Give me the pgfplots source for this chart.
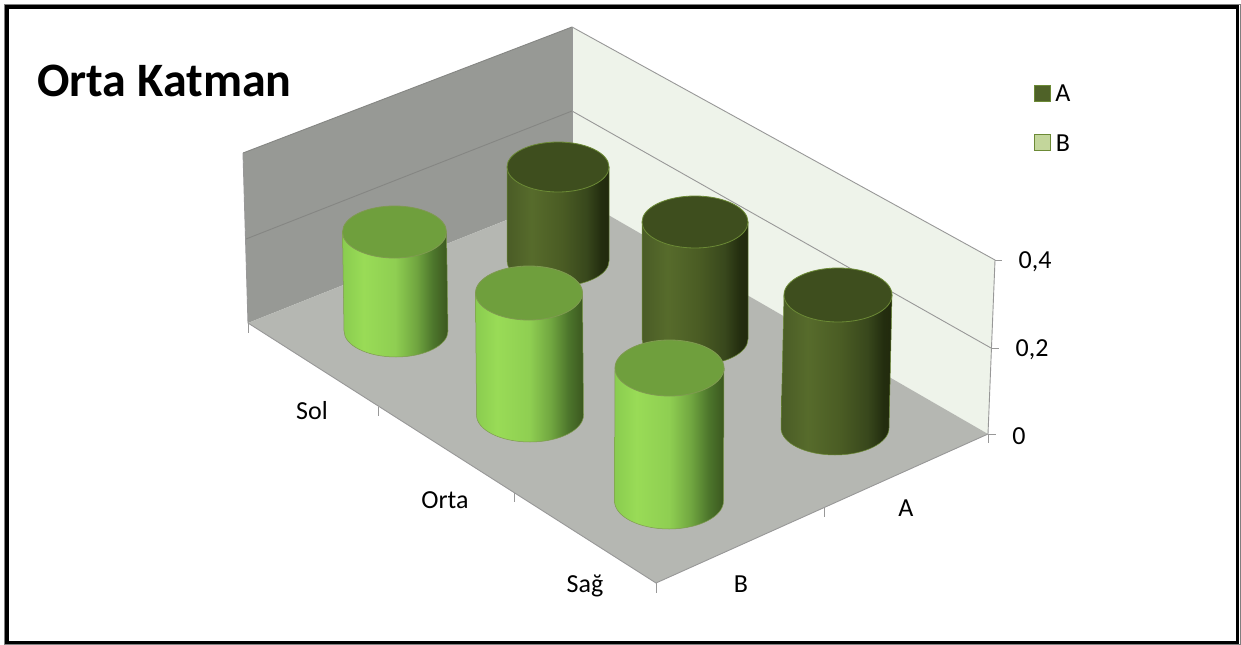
\documentclass[border=0pt]{standalone}
\usepackage{fontspec}
\setmainfont{Carlito}
\usepackage{pgfplots}
\usepackage{pgfplotstable}
\pgfplotsset{compat=1.18}

\definecolor{floorgray}{HTML}{B5B7B2}
\definecolor{sidewall}{HTML}{979995}
\definecolor{backwall}{HTML}{EEF3EA}
\definecolor{wallline}{HTML}{989898}
\definecolor{sideline}{HTML}{858683}
\definecolor{topA}{HTML}{3E4E1E}
\definecolor{topB}{HTML}{6F9F3D}
\definecolor{edgeA}{HTML}{6C8A36}
\definecolor{edgeB}{HTML}{7F9A50}
\definecolor{swatchA}{HTML}{4F6228}
\definecolor{swatchB}{HTML}{C3D69B}

\tikzset{lab/.style={font=\fontsize{26}{30}\selectfont, text=black, inner sep=0pt}}

% Side shading of the cylinders: the path box spans 25bp to 75bp
\pgfdeclarehorizontalshading{cylA}{100bp}{
  rgb(0bp)=(0.29,0.36,0.15);
  rgb(25bp)=(0.29,0.36,0.15);
  rgb(37bp)=(0.34,0.42,0.17);
  rgb(52bp)=(0.29,0.36,0.14);
  rgb(64bp)=(0.22,0.28,0.11);
  rgb(71bp)=(0.14,0.18,0.06);
  rgb(75bp)=(0.13,0.16,0.05);
  rgb(100bp)=(0.13,0.16,0.05)}
\pgfdeclarehorizontalshading{cylB}{100bp}{
  rgb(0bp)=(0.54,0.80,0.31);
  rgb(25bp)=(0.54,0.80,0.31);
  rgb(35bp)=(0.60,0.86,0.34);
  rgb(50bp)=(0.56,0.81,0.32);
  rgb(60bp)=(0.44,0.65,0.25);
  rgb(68bp)=(0.30,0.46,0.17);
  rgb(75bp)=(0.23,0.34,0.12);
  rgb(100bp)=(0.23,0.34,0.12)}

% One cylinder, with its base centre at the plotted point
\newcommand\cylshape[3]{%
  \path[shade,shading=#1,draw=#3,line width=0.5pt]
    ({-\cylrx pt},0pt) -- ({\cyldx pt-\cylrx pt},{\cylh pt}) -- ({\cyldx pt+\cylrx pt},{\cylh pt})
    -- ({\cylrx pt},0pt) arc[start angle=0,end angle=-180,x radius=\cylrx pt,y radius=\cylry pt] -- cycle;
  \path[fill=#2,draw=#3,line width=0.8pt]
    ({\cyldx pt},{\cylh pt}) ellipse[x radius=\cylrx pt,y radius=\cylry pt];
}
\pgfdeclareplotmark{cylinder}{%
  \ifdim\cylg pt<0.5pt \cylshape{cylA}{topA}{edgeA}\else \cylshape{cylB}{topB}{edgeB}\fi
}

% Drawn back to front: x, y of the base, height, radii, lean of the top, group (0 = A, 1 = B)
\pgfplotstableread{
cx    by   h    rx   ry  dx   g
558   261  94   51   25  0    0
396   331  99   52   26  -1.5 1
695   339  117  53   26  0    0
530   415  122  53.5 27  -1   1
835   428  133  54   27  3    0
669   501  133  54.5 28  0.5  1
}\cylinders

\begin{document}
\begin{tikzpicture}
\begin{axis}[
  scale only axis, width=1241pt, height=644pt,
  xmin=0, xmax=1241, ymin=0, ymax=644, y dir=reverse,
  axis lines=none, clip=false,
]
  % page background and chart border
  \addplot[fill=white, draw=none] coordinates {(0,0)(1241,0)(1241,644)(0,644)} --cycle;
  \addplot[draw=gray, line width=1pt] coordinates {(4.5,5)(1240,5)(1240,644)(4.5,644)} --cycle;
  \addplot[draw=black, line width=3.6pt] coordinates {(7,7)(1237.3,7)(1237.3,642.3)(7,642.3)} --cycle;

  % chart walls and floor
  \addplot[fill=sidewall, draw=none] coordinates {(243,153)(572,27)(572,194)(248,323)} --cycle;
  \addplot[fill=backwall, draw=none] coordinates {(572,27)(995,260)(988,434)(572,194)} --cycle;
  \addplot[fill=floorgray, draw=none] coordinates {(248,323)(572,194)(988,434)(656,583)} --cycle;

  % wall and gridlines
  \addplot[sideline, line width=0.9pt] coordinates {(243,153)(572,27)};
  \addplot[sideline, line width=0.9pt] coordinates {(246,239)(572,111)};
  \addplot[wallline, line width=0.9pt] coordinates {(572,27)(995,260)(988,434)};
  \addplot[wallline, line width=0.9pt] coordinates {(572,111)(991,348)};
  \addplot[wallline, line width=0.9pt] coordinates {(243,153)(248,323)(656,583)(988,434)};
  \addplot[wallline, line width=0.7pt] coordinates {(572,27)(572,194)};

  % tick stubs
  \addplot[wallline, line width=1pt] coordinates {(995,260)(1002,260)};
  \addplot[wallline, line width=1pt] coordinates {(991,348)(999,348)};
  \addplot[wallline, line width=1pt] coordinates {(988,434)(996,434)};
  \addplot[wallline, line width=1pt] coordinates {(988,434)(988,443)};
  \addplot[wallline, line width=1pt] coordinates {(824,508)(824,517)};
  \addplot[wallline, line width=1pt] coordinates {(656,583)(656,593)};
  \addplot[wallline, line width=1pt] coordinates {(514,493)(514,502)};
  \addplot[wallline, line width=1pt] coordinates {(378,407)(378,416)};
  \addplot[wallline, line width=1pt] coordinates {(248,323)(248,333)};

  % the six cylinders
  \addplot[
    scatter, only marks, mark=cylinder, point meta=x,
    visualization depends on={\thisrow{h} \as \cylh},
    visualization depends on={\thisrow{rx} \as \cylrx},
    visualization depends on={\thisrow{ry} \as \cylry},
    visualization depends on={\thisrow{dx} \as \cyldx},
    visualization depends on={\thisrow{g} \as \cylg},
  ] table[x=cx, y=by] {\cylinders};

  % legend swatches
  \addplot[only marks, mark=square*, mark size=7.8pt, mark options={fill=swatchA, draw=edgeA, line width=1.2pt}]
    coordinates {(1042.5,93.5)};
  \addplot[only marks, mark=square*, mark size=7.8pt, mark options={fill=swatchB, draw=edgeA, line width=1.2pt}]
    coordinates {(1042.5,142.5)};

  % text
  \node[anchor=base west, inner sep=0pt, font=\fontsize{48}{50}\selectfont\bfseries] at (axis cs:37,97) {Orta Katman};
  \node[lab] at (axis cs:1063,93) {A};
  \node[lab] at (axis cs:1063,143) {B};
  \node[lab] at (axis cs:1035,262) {0,4};
  \node[lab] at (axis cs:1032,350) {0,2};
  \node[lab] at (axis cs:1019,436) {0};
  \node[lab] at (axis cs:906,508) {A};
  \node[lab] at (axis cs:741,584) {B};
  \node[lab] at (axis cs:312,411) {Sol};
  \node[lab] at (axis cs:445,500) {Orta};
  \node[lab] at (axis cs:585,586) {Sağ};
\end{axis}
\end{tikzpicture}
\end{document}
